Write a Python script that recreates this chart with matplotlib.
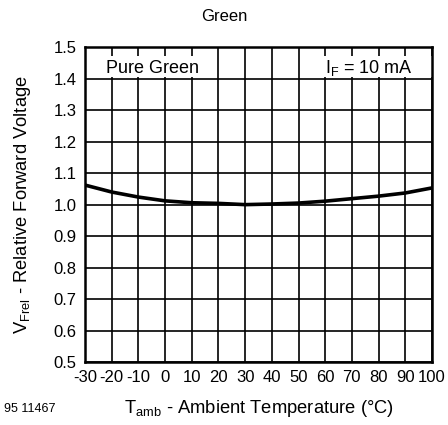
import matplotlib
matplotlib.use("Agg")
import matplotlib.pyplot as plt
from matplotlib.patches import Rectangle

plt.rcParams['font.family'] = ['Liberation Sans', 'DejaVu Sans']

# temperature (°C) and relative forward voltage
temp = [-30, -20, -10, 0, 10, 20, 30, 40, 50, 60, 70, 80, 90, 100]
v_frel = [1.062, 1.040, 1.024, 1.012, 1.006, 1.004, 1.000, 1.002, 1.005, 1.011, 1.019, 1.027, 1.037, 1.053]

x_ticks = list(range(-30, 101, 10))
y_ticks = [0.5, 0.6, 0.7, 0.8, 0.9, 1.0, 1.1, 1.2, 1.3, 1.4, 1.5]

fig = plt.figure(figsize=(4.48, 4.25), dpi=100)
ax = fig.add_axes([0.19, 0.148, 0.774, 0.741])

ax.plot(temp, v_frel, color='black', lw=2.6, zorder=3)

ax.set_xlim(-30, 100)
ax.set_ylim(0.5, 1.5)
ax.set_xticks(x_ticks)
ax.set_yticks(y_ticks)
ax.set_xticklabels([str(t) for t in x_ticks], fontsize=12)
ax.set_yticklabels([f"{v:.1f}" for v in y_ticks], fontsize=12)
ax.tick_params(axis='x', length=0, pad=6)
ax.tick_params(axis='y', length=0, pad=6)
ax.set_axisbelow(True)
ax.grid(True, color='black', lw=1.2)
for s in ax.spines.values():
    s.set_linewidth(1.8)

# white label boxes break the grid in the top row
ax.add_patch(Rectangle((-30, 1.405), 44, 0.067, facecolor='white', edgecolor='none', zorder=1))
ax.add_patch(Rectangle((56, 1.405), 44, 0.067, facecolor='white', edgecolor='none', zorder=1))
ax.text(-22, 1.433, "Pure Green", fontsize=13, ha='left', va='center', zorder=4)
ax.text(93, 1.433, r"I$_\mathregular{F}$ = 10 mA", fontsize=13, ha='right', va='center', zorder=4)

ax.set_xlabel(r"T$_\mathregular{amb}$ - Ambient Temperature (°C)", fontsize=13.2, labelpad=9)
ax.set_ylabel(r"V$_\mathregular{Frel}$ - Relative Forward Voltage", fontsize=13.2, labelpad=15)
fig.text(0.5, 0.962, "Green", fontsize=12, ha='center', va='center')
fig.text(0.008, 0.038, "95 11467", fontsize=9, ha='left', va='center')

fig.savefig("out.png", dpi=100)
